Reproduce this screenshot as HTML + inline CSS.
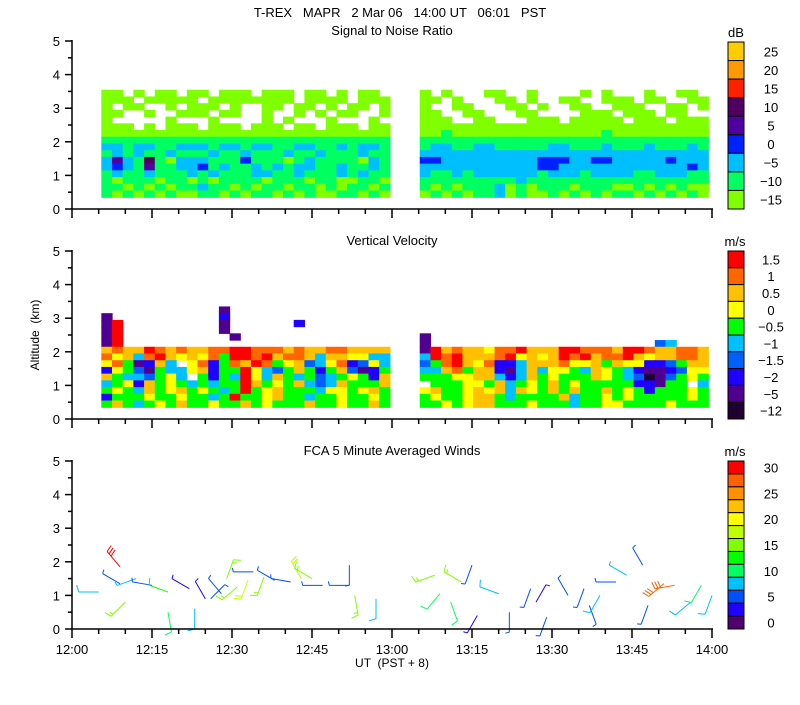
<!DOCTYPE html>
<html><head><meta charset="utf-8"><style>
html,body{margin:0;padding:0;background:#fff;}
svg text{font-family:"Liberation Sans",sans-serif;font-size:13px;fill:#000;}
</style></head><body>
<svg id="chart" width="800" height="700" xmlns="http://www.w3.org/2000/svg">
<text x="400" y="17" text-anchor="middle" xml:space="preserve">T-REX   MAPR   2 Mar 06   14:00 UT   06:01   PST</text>
<text x="392" y="35" text-anchor="middle">Signal to Noise Ratio</text>
<text x="392" y="245" text-anchor="middle">Vertical Velocity</text>
<text x="392" y="455" text-anchor="middle">FCA 5 Minute Averaged Winds</text>
<text x="0" y="0" transform="translate(39,335) rotate(-90)" text-anchor="middle" style="font-size:12px" xml:space="preserve">Altitude  (km)</text>
<text x="392" y="667" text-anchor="middle" style="font-size:12px" xml:space="preserve">UT  (PST + 8)</text>
<g id="layers"></g>
</svg>
<script>
// ---- data ----
const xTickLabels = ["12:00","12:15","12:30","12:45","13:00","13:15","13:30","13:45","14:00"];
const yTickLabels = ["0","1","2","3","4","5"];
const snrColors = ["#80ff00","#00ff60","#00bfff","#0020ff","#5000a0","#500060","#ff2000","#ff9900","#ffcc00"];
const snrLabels = ["\u221215","\u221210","\u22125","0","5","10","15","20","25"];
const velColors = ["#ff0000","#ff6600","#ffc000","#ffff00","#00ff00","#00c0ff","#0060ff","#2000ff","#500090","#200030"];
const velLabels = ["1.5","1","0.5","0","\u22120.5","\u22121","\u22121.5","\u22122","\u22125","\u221212"];
const windColors = ["#ff0000","#ff6000","#ff9000","#ffc000","#ffff00","#c0ff00","#80ff00","#00ff00","#00ff60","#00c0ff","#0050ff","#2000ff","#500070"];
const windLabels = ["30","","25","","20","","15","","10","","5","","0"];
// SNR grid: rows top->bottom (alt 3.45 .. 0.45), code 1..9 = snrColors index+1, 0 = none
const snrSeg1 = ["110101101101110111011010110","111011111011111111011110111","101100101110100110110101101","110010011101100100101011001","100000100010000101000100010","111010111011101110110111011","111111111111111111111111111","222222222222222222222222222","332332233323323322332232332","232322322232232223223222322","353262133322242221232222132","343252233423223232332232232","232232223232223322322232322","212221221212222122212211221","221212122322121221221212212","212121211221212212121122121"];
const snrSeg2 = ["101000110010000101000100110","110100011010011001110110011","100110001101001100111001101","110011000110000111011101100","111001100011101111101110111","111111111111111111111111111","112111111111111112111111111","222222222222222222222222222","233223322222332223222322232","333333333333333333333333333","443333333334443344333334333","333333333334433333333333343","322323333332333233332233322","222222222322222222222222222","212122231212221222112121211","121212231211212121221212121"];
// Velocity grid: rows top->bottom (alt 3.25 .. 0.45); 1..9,x = velColors index+1
const velSeg1 = ["000000000009000000000000000","900000000008000000000000000","910000000009000000800000000","910000000009000000000000000","910000000000900000000000000","910000000000000000000000000","323312323322112223233223333","243621343425112132236334466","425983604285231254376428746","845795664385514675358537985","356675460585614635657654583","654835456565513545367635553","545635435456515435556445435","855545545565155435565545545","535654535545535455535545535"];
const velSeg2 = ["000000000000000000000000000","000000000000000000000000000","000000000000000000000000000","000000000000000000000000000","900000000000000000000000000","900000000000000000000076000","913233422133311222311233223","612133321434312132213433223","752134288633324435344887533","663253389636445634568998744","555443368635455534567x97545","055544536545354555558895506","435543436345353553545855545","545543356555536554545555545","554543355545556554455554555"];
// Winds
const windTimes = [5,9,9,10,12,15,18,18,22,23,25,26,28,29,31,33,34,36,38,41,43,45,47,52,52,53,57,68,69,71,73,75,76,80,82,86,87,89,93,96,97,99,102,104,107,108,111,113,116,118,120];
const windAlts  = [1.1,1.35,1.85,0.8,1.5,1.3,1.1,0.5,1.2,0.6,0.9,0.9,1.05,1.5,1.25,1.45,1.7,1.55,1.45,1.4,1.5,1.5,1.3,1.9,1.3,1.0,0.9,1.6,1.05,0.8,1.4,1.9,0.4,1.05,0.5,1.2,0.8,0.35,1.0,1.2,0.7,1.0,1.4,1.6,1.9,0.7,1.35,1.3,0.8,1.3,1.0];
const windSpeeds= [8,4,30,15,7,4,12,11,3,8,3,5,4,14,14,18,4,15,4,5,18,16,4,5,4,16,8,15,11,11,14,5,3,8,4,4,3,6,4,5,4,8,6,7,5,4,28,28,8,9,8];
const windDirs  = [270,300,320,225,250,280,290,170,300,180,330,45,320,20,230,200,270,200,300,280,330,300,270,180,270,170,180,250,220,160,300,200,210,290,180,200,30,200,330,200,160,210,270,300,330,200,230,260,230,210,200];

// ---- geometry ----
const X0=72, X1=712, PX_PER_MIN=(X1-X0)/120;
const panels=[{y0:209},{y0:419},{y0:629}];
const KM=(209-41)/5;
const xScale=m=>X0+m*PX_PER_MIN;
const yScale=(p,a)=>panels[p].y0-a*KM;
const NS="http://www.w3.org/2000/svg";
const root=document.getElementById('layers');
function mk(tag,attrs,parent){const e=document.createElementNS(NS,tag);for(const k in attrs)e.setAttribute(k,attrs[k]);(parent||root).appendChild(e);return e;}

function drawGrid(p,grid,colors,segStart,segEnd,altTop,step,name){
  const g=mk('g',{});
  
  
  const nc=grid[0].length, cw=(segEnd-segStart)/nc;
  grid.forEach((row,ri)=>{
    const aTop=altTop-ri*step;
    for(let ci=0;ci<nc;ci++){
      const ch=row[ci]; if(ch==='0')continue;
      const idx=(ch==='x'?10:parseInt(ch))-1;
      const x=xScale(segStart+ci*cw), x2=xScale(segStart+(ci+1)*cw);
      const y=yScale(p,aTop), y2=yScale(p,aTop-step);
      const r=mk('rect',{x:x,y:y,width:x2-x+0.6,height:y2-y+0.6,fill:colors[idx]},g);
      
      
    }
  });
}
drawGrid(0,snrSeg1,snrColors,5.5,59.6,3.55,0.2,'snr-segment-1');
drawGrid(0,snrSeg2,snrColors,65.2,119.3,3.55,0.2,'snr-segment-2');
drawGrid(1,velSeg1,velColors,5.5,59.6,3.35,0.2,'velocity-segment-1');
drawGrid(1,velSeg2,velColors,65.2,119.3,3.35,0.2,'velocity-segment-2');

// wind barbs
function windColor(s){let i=12-Math.round(s/2.5);i=Math.max(0,Math.min(12,i));return windColors[i];}
const wg=mk('g',{});


windTimes.forEach((t,i)=>{
  const x=xScale(t), y=yScale(2,windAlts[i]);
  const d=windDirs[i]*Math.PI/180, L=20;
  const dx=Math.sin(d), dy=-Math.cos(d);
  const ex=x+dx*L, ey=y+dy*L, col=windColor(windSpeeds[i]);
  const bg=mk('g',{stroke:col,'stroke-width':1,fill:'none'},wg);
  
  
  mk('line',{x1:x,y1:y,x2:ex,y2:ey},bg);
  let s=windSpeeds[i], k=0;
  const px=-dy, py=dx;
  while(s>=7.5){const bx=ex-dx*k*3, by=ey-dy*k*3;mk('line',{x1:bx,y1:by,x2:bx+px*7+dx*2,y2:by+py*7+dy*2},bg);s-=10;k++;}
  if(s>=2.5){const bx=ex-dx*k*3, by=ey-dy*k*3;mk('line',{x1:bx,y1:by,x2:bx+px*4+dx*1,y2:by+py*4+dy*1},bg);}
});

// axes
panels.forEach((P,pi)=>{
  const ag=mk('g',{stroke:'#000','stroke-width':1.5,fill:'none'});
  
  
  mk('line',{x1:X0,y1:yScale(pi,5)-1,x2:X0,y2:P.y0},ag);
  mk('line',{x1:X0,y1:P.y0,x2:X1+1,y2:P.y0},ag);
  for(let h=0;h<=10;h++){const y=yScale(pi,h/2);mk('line',{x1:X0-(h%2?4:7),y1:y,x2:X0,y2:y},ag);}
  yTickLabels.forEach((l,i)=>{const t=mk('text',{x:X0-12,y:yScale(pi,i)+5,'text-anchor':'end'});t.textContent=l;
    
    });
  for(let m=0;m<=120;m+=5){const x=xScale(m);mk('line',{x1:x,y1:P.y0,x2:x,y2:P.y0+(m%15?5:9)},ag);}
});
xTickLabels.forEach((l,i)=>{const t=mk('text',{x:xScale(i*15),y:654,'text-anchor':'middle'});t.textContent=l;
  
  });

// colorbars
function colorbar(top,bot,colors,labels,unit,name,ux){
  const g=mk('g',{});
  
  
  const h=(bot-top)/colors.length;
  colors.forEach((c,i)=>{mk('rect',{x:728,y:top+i*h,width:16,height:h,fill:c,stroke:'#000','stroke-width':1},g);
    if(labels[i]){const t=mk('text',{x:771,y:top+i*h+h/2+5,'text-anchor':'middle'},g);t.textContent=labels[i];
      
      }});
  const u=mk('text',{x:ux,y:top-5,'text-anchor':'middle'},g);u.textContent=unit;
  
  
}
colorbar(42,209,snrColors.slice().reverse(),snrLabels.slice().reverse(),'dB','snr-colorbar',736);
colorbar(251,419,velColors,velLabels,'m/s','velocity-colorbar',735);
colorbar(461,629,windColors,windLabels,'m/s','wind-colorbar',735);
</script>
</body></html>
